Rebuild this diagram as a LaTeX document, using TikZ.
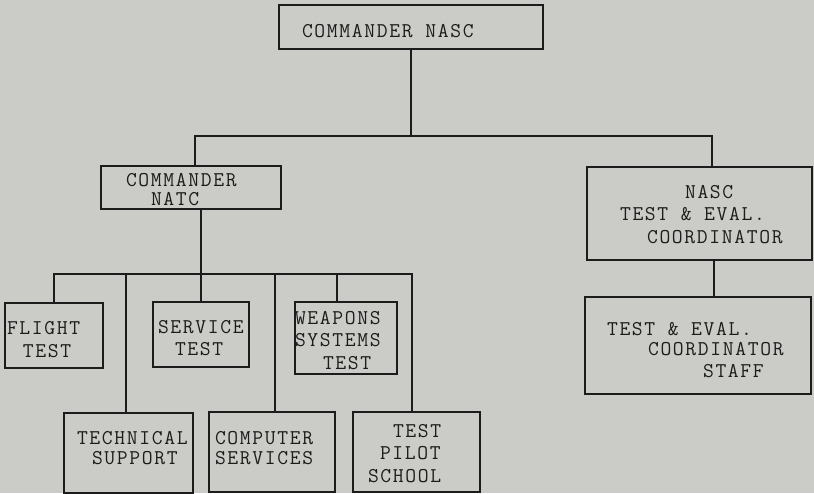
\documentclass[tikz,border=0pt]{standalone}
\usepackage{fontspec}
\newfontfamily\tw[LetterSpace=8]{Latin Modern Mono}
\definecolor{paper}{RGB}{203,204,199}
\definecolor{ink}{RGB}{28,28,28}
\begin{document}
\begin{tikzpicture}[x=1pt,y=-1pt,
  box/.style={draw=ink,line width=1.1pt,inner sep=0pt,outer sep=0pt},
  txt/.style={anchor=base west,inner sep=0pt,outer sep=0pt,text=ink,font=\tw\fontsize{21}{24}\selectfont},
  wire/.style={draw=ink,line width=1.1pt}]
\fill[paper] (0,0) rectangle (814,493);
\useasboundingbox (0,0) rectangle (814,493);
% boxes
\node[box,minimum width=264pt,minimum height=44pt] (top) at (411,27) {};
\node[box,minimum width=180pt,minimum height=43pt] (natc) at (191,187.5) {};
\node[box,minimum width=225pt,minimum height=93pt] (coord) at (699.5,213.5) {};
\node[box,minimum width=226pt,minimum height=97pt] (staff) at (698,345.5) {};
\node[box,minimum width=98pt,minimum height=65pt] (flight) at (54,335.5) {};
\node[box,minimum width=96pt,minimum height=65pt] (service) at (201,334.5) {};
\node[box,minimum width=102pt,minimum height=72pt] (weapons) at (346,338) {};
\node[box,minimum width=129pt,minimum height=80pt] (tech) at (128.5,453) {};
\node[box,minimum width=126pt,minimum height=80pt] (comp) at (272,452) {};
\node[box,minimum width=127pt,minimum height=80pt] (tps) at (416.5,452) {};
% texts
\node[txt] (t1) at (302,37) {COMMANDER NASC};
\node[txt] (t2) at (126,186) {COMMANDER};
\node[txt] (t3) at (151,205) {NATC};
\node[txt] (t4) at (685,198) {NASC};
\node[txt] (t5) at (620,220) {TEST \& EVAL.};
\node[txt] (t6) at (647,243) {COORDINATOR};
\node[txt] (t7) at (607,335) {TEST \& EVAL.};
\node[txt] (t8) at (648,355) {COORDINATOR};
\node[txt] (t9) at (703,377) {STAFF};
\node[txt] (t10) at (7,334) {FLIGHT};
\node[txt] (t11) at (23,357) {TEST};
\node[txt] (t12) at (158,333) {SERVICE};
\node[txt] (t13) at (175,355) {TEST};
\node[txt] (t14) at (295,324) {WEAPONS};
\node[txt] (t15) at (295,346) {SYSTEMS};
\node[txt] (t16) at (323,369) {TEST};
\node[txt] (t17) at (77,444) {TECHNICAL};
\node[txt] (t18) at (92,464) {SUPPORT};
\node[txt] (t19) at (215,444) {COMPUTER};
\node[txt] (t20) at (215,464) {SERVICES};
\node[txt] (t21) at (393,437) {TEST};
\node[txt] (t22) at (380,459) {PILOT};
\node[txt] (t23) at (368,482) {SCHOOL};
% connectors
\coordinate (b1) at (411,136);
\coordinate (b2) at (201,274);
\draw[wire] (top.south) -- (b1);
\draw[wire] ([xshift=4pt]natc.north) |- (b1) -| ([xshift=12.5pt]coord.north);
\draw[wire] ([xshift=14.5pt]coord.south) coordinate (c1) -- (c1 |- staff.north);
\draw[wire] (natc.south -| service.north) -- (service.north);
\draw[wire] (flight.north) |- (b2) -| ([xshift=-4.5pt]tps.north);
\draw[wire] ([xshift=-2.5pt]tech.north) coordinate (c2) -- (c2 |- b2);
\draw[wire] ([xshift=3pt]comp.north) coordinate (c3) -- (c3 |- b2);
\draw[wire] ([xshift=-9pt]weapons.north) coordinate (c4) -- (c4 |- b2);
\end{tikzpicture}
\end{document}
